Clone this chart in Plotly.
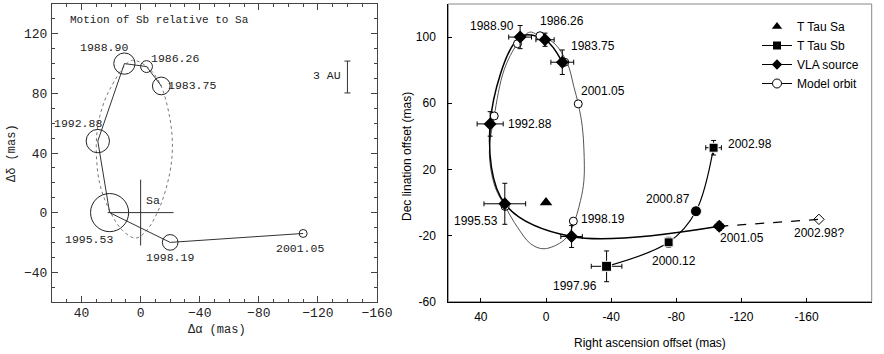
import plotly.graph_objects as go

# ---------------- Left panel data: motion of Sb relative to Sa ----------------
left_epochs = ["1983.75", "1986.26", "1988.90", "1992.88", "1995.53", "1998.19", "2001.05"]
left_dra = [-14, -4, 11, 29, 21, -20, -110]
left_ddec = [85, 98, 100, 48, 0, -20, -14]
left_err = [6.0, 4.0, 7.2, 7.9, 12.9, 5.3, 2.7]          # error circle radius (mas)

left_orbit_dra = [6.3, -3.9, -12.9, -19.6, -21.5, -19.6, -12.9, -3.9, 3.4, 12.0, 19.8, 27.7, 30.0, 27.7, 21.0, 6.3]
left_orbit_ddec = [102, 98.2, 87, 64.4, 44, 26, 3.6, -12.2, -17.1, -12.2, -0.9, 19.4, 46.4, 64.4, 82.4, 102]

sa_left = (0, 0)
scale_bar_center = (-140, 91)
scale_bar_len = 21.4   # 3 AU in mas

left_xticks = [40, 0, -40, -80, -120, -160]
left_yticks = [-40, 0, 40, 80, 120]

# ---------------- Right panel data ----------------
sa_ra = [0]
sa_dec = [0]

sb_epochs = ["1997.96", "2000.12", "2000.87", "2002.98"]
sb_ra = [-37.2, -75.3, -92.1, -102.9]
sb_dec = [-38.6, -24.1, -5.3, 33.1]
sb_ra_err = [9.4, 1.5, 2.0, 4.8]
sb_dec_err = [9.3, 3.0, 2.0, 4.4]

vla_epochs = ["1983.75", "1986.26", "1988.90", "1992.88", "1995.53", "1998.19", "2001.05"]
vla_ra = [-10.0, 0.6, 15.9, 34.3, 25.3, -15.7, -106.4]
vla_dec = [84.8, 98.4, 100.0, 47.5, -0.8, -20.6, -14.4]
vla_ra_err = [7.0, 5.6, 7.0, 8.0, 12.8, 6.6, 2.5]
vla_dec_err = [7.4, 4.0, 7.0, 7.4, 12.4, 6.6, 2.5]

vla_pred_epoch = "2002.98?"
vla_pred_ra = [-106.4, -167.6]
vla_pred_dec = [-14.4, -10.2]

model_epochs = ["1983.75", "1986.26", "1988.90", "1992.88", "1995.53", "1998.19", "2001.05"]
model_ra = [-11.5, 3.7, 17.5, 31.8, 25.1, -16.8, -19.8]
model_dec = [84.8, 100.8, 96.0, 52.3, -2.4, -11.3, 59.6]

orbit_ra = [5.3, 10, 17.5, 25.7, 31.8, 34.8, 31.5, 25.1, 17.5, 9.4, 1.2, -11, -16.2, -21.2,
            -23.3, -23.3, -22.3, -19.8, -17.1, -13.1, -4.9, 5.3]
orbit_dec = [101.4, 103, 96, 80.2, 52.3, 30, 10, -2.4, -15, -25, -28, -22.8, -14.8, 1.2,
             13.5, 31.7, 45.8, 59.6, 70, 84.2, 96.4, 101.4]

right_xticks = [40, 0, -40, -80, -120, -160, -200]
right_xticktext = ["40", "0", "-40", "-80", "-120", "-160", "-200"]
right_yticks = [100, 60, 20, -20, -60]
right_yticktext = ["100", "60", "20", "-20", "-60"]

# ---------------- Layout geometry ----------------
W, H = 884, 354
L_X0, L_X1, L_Y0, L_Y1 = 52, 377, 4, 302
R_X0, R_X1, R_Y0, R_Y1 = 448.3, 871.7, 4, 301.7
L_RANGE_X, L_RANGE_Y = [60, -160], [-60, 140]
R_RANGE_X, R_RANGE_Y = [60, -200], [-60, 120]
px_per_mas_left = (L_X1 - L_X0) / abs(L_RANGE_X[1] - L_RANGE_X[0])

MONO = "Liberation Mono"
SANS = "Liberation Sans"

fig = go.Figure()

# ---- left panel ----
fig.add_trace(go.Scatter(x=left_orbit_dra, y=left_orbit_ddec, mode="lines",
                         line=dict(color="#777", width=1, dash="dot", shape="spline"),
                         xaxis="x", yaxis="y", showlegend=False, hoverinfo="skip"))
fig.add_trace(go.Scatter(x=left_dra, y=left_ddec, mode="lines",
                         line=dict(color="#333", width=1),
                         xaxis="x", yaxis="y", showlegend=False))
fig.add_trace(go.Scatter(x=left_dra, y=left_ddec, mode="markers",
                         marker=dict(symbol="circle-open", color="#222", opacity=1,
                                     size=[2 * r * px_per_mas_left for r in left_err],
                                     line=dict(width=1, color="#222")),
                         xaxis="x", yaxis="y", showlegend=False))
fig.add_trace(go.Scatter(x=[sa_left[0]], y=[sa_left[1]], mode="markers",
                         marker=dict(symbol="cross-thin-open", size=47, color="#333",
                                     line=dict(width=1, color="#333")),
                         xaxis="x", yaxis="y", showlegend=False))
fig.add_trace(go.Scatter(x=[scale_bar_center[0]], y=[scale_bar_center[1]], mode="markers",
                         marker=dict(size=1, color="rgba(0,0,0,0)"),
                         error_y=dict(type="data", array=[scale_bar_len / 2], color="#333",
                                      thickness=1, width=3),
                         xaxis="x", yaxis="y", showlegend=False))

# ---- right panel ----
fig.add_trace(go.Scatter(x=orbit_ra, y=orbit_dec, mode="lines",
                         line=dict(color="#555", width=1, shape="spline"),
                         xaxis="x2", yaxis="y2", showlegend=False, hoverinfo="skip"))
fig.add_trace(go.Scatter(x=vla_pred_ra, y=vla_pred_dec, mode="lines",
                         line=dict(color="black", width=1.2, dash="dash"),
                         xaxis="x2", yaxis="y2", showlegend=False))
fig.add_trace(go.Scatter(x=vla_pred_ra[-1:], y=vla_pred_dec[-1:], mode="markers",
                         marker=dict(symbol="diamond-open", size=8, color="black", line=dict(width=1)),
                         xaxis="x2", yaxis="y2", showlegend=False))
fig.add_trace(go.Scatter(x=vla_ra, y=vla_dec, mode="lines",
                         line=dict(color="black", width=1.5, shape="spline"),
                         xaxis="x2", yaxis="y2", showlegend=False))
fig.add_trace(go.Scatter(x=sb_ra, y=sb_dec, mode="lines",
                         line=dict(color="black", width=1.2, shape="spline"),
                         xaxis="x2", yaxis="y2", showlegend=False))
fig.add_trace(go.Scatter(x=model_ra, y=model_dec, mode="markers",
                         marker=dict(symbol="circle", size=8, color="white", opacity=1,
                                     line=dict(color="black", width=1)),
                         xaxis="x2", yaxis="y2", showlegend=False))
fig.add_trace(go.Scatter(x=vla_ra, y=vla_dec, mode="markers",
                         marker=dict(symbol="diamond", size=10, color="black", opacity=1),
                         error_x=dict(type="data", array=vla_ra_err, color="black", thickness=1, width=2.5),
                         error_y=dict(type="data", array=vla_dec_err, color="black", thickness=1, width=2.5),
                         xaxis="x2", yaxis="y2", showlegend=False))
fig.add_trace(go.Scatter(x=sb_ra, y=sb_dec, mode="markers",
                         marker=dict(symbol=["square", "square", "circle", "square"], size=[10, 9, 11, 9],
                                     color="black", opacity=1),
                         error_x=dict(type="data", array=sb_ra_err, color="black", thickness=1, width=2.5),
                         error_y=dict(type="data", array=sb_dec_err, color="black", thickness=1, width=2.5),
                         xaxis="x2", yaxis="y2", showlegend=False))
fig.add_trace(go.Scatter(x=sa_ra, y=sa_dec, mode="markers",
                         marker=dict(symbol="triangle-up", size=11, color="black"),
                         xaxis="x2", yaxis="y2", showlegend=False))

# legend-only entries
fig.add_trace(go.Scatter(x=[None], y=[None], mode="markers", name="T Tau Sa",
                         marker=dict(symbol="triangle-up", size=9, color="black"), xaxis="x2", yaxis="y2"))
fig.add_trace(go.Scatter(x=[None], y=[None], mode="lines+markers", name="T Tau Sb",
                         marker=dict(symbol="square", size=8, color="black"),
                         line=dict(color="black", width=1), xaxis="x2", yaxis="y2"))
fig.add_trace(go.Scatter(x=[None], y=[None], mode="lines+markers", name="VLA source",
                         marker=dict(symbol="diamond", size=8, color="black"),
                         line=dict(color="black", width=1), xaxis="x2", yaxis="y2"))
fig.add_trace(go.Scatter(x=[None], y=[None], mode="lines+markers", name="Model orbit",
                         marker=dict(symbol="circle", size=9, color="white", line=dict(color="black", width=1)),
                         line=dict(color="black", width=1), xaxis="x2", yaxis="y2"))

annotations = []

# left panel epoch labels (pixel offsets)
left_shift = {"1983.75": (31, 0), "1986.26": (28, 8), "1988.90": (-20, 16), "1992.88": (-20, 18),
              "1995.53": (-21, -27), "1998.19": (0, -15), "2001.05": (-3, -15)}
for e, xv, yv in zip(left_epochs, left_dra, left_ddec):
    dx, dy = left_shift[e]
    annotations.append(dict(x=xv, y=yv, xref="x", yref="y", text=e, showarrow=False,
                            xshift=dx, yshift=dy, font=dict(family=MONO, size=11.5, color="#222")))
annotations.append(dict(x=sa_left[0], y=sa_left[1], xref="x", yref="y", text="Sa", showarrow=False,
                        xshift=12, yshift=12, font=dict(family=MONO, size=11.5, color="#222")))
annotations.append(dict(x=scale_bar_center[0], y=scale_bar_center[1], xref="x", yref="y", text="3 AU",
                        showarrow=False, xanchor="right", xshift=-4, yshift=2,
                        font=dict(family=MONO, size=11.5, color="#222")))
annotations.append(dict(x=68 / W, y=1 - 20 / H, xref="paper", yref="paper", text="Motion of Sb relative to Sa",
                        showarrow=False, xanchor="left", yanchor="middle",
                        font=dict(family=MONO, size=11, color="#222")))
annotations.append(dict(x=217 / W, y=1 - 330 / H, xref="paper", yref="paper", text="Δα (mas)",
                        showarrow=False, xanchor="center", yanchor="middle",
                        font=dict(family=MONO, size=12, color="#222")))
annotations.append(dict(x=12 / W, y=1 - 153 / H, xref="paper", yref="paper", text="Δδ (mas)",
                        showarrow=False, textangle=-90, xanchor="center", yanchor="middle",
                        font=dict(family=MONO, size=12, color="#222")))

# right panel labels
vla_shift = {"1983.75": (31, 16), "1986.26": (17, 19), "1988.90": (-28, 11), "1992.88": (40, 0),
             "1995.53": (-29, -17), "2001.05": (23, -12)}
for e, xv, yv in zip(vla_epochs, vla_ra, vla_dec):
    if e in vla_shift:
        dx, dy = vla_shift[e]
        annotations.append(dict(x=xv, y=yv, xref="x2", yref="y2", text=e, showarrow=False,
                                xshift=dx, yshift=dy, font=dict(family=SANS, size=12, color="black")))
model_shift = {"2001.05": (25, 13), "1998.19": (30, 2)}
for e, xv, yv in zip(model_epochs, model_ra, model_dec):
    if e in model_shift:
        dx, dy = model_shift[e]
        annotations.append(dict(x=xv, y=yv, xref="x2", yref="y2", text=e, showarrow=False,
                                xshift=dx, yshift=dy, font=dict(family=SANS, size=12, color="black")))
sb_shift = {"1997.96": (-32, -20), "2000.12": (5, -19), "2000.87": (-28, 12), "2002.98": (36, 4)}
for e, xv, yv in zip(sb_epochs, sb_ra, sb_dec):
    dx, dy = sb_shift[e]
    annotations.append(dict(x=xv, y=yv, xref="x2", yref="y2", text=e, showarrow=False,
                            xshift=dx, yshift=dy, font=dict(family=SANS, size=12, color="black")))
annotations.append(dict(x=vla_pred_ra[-1], y=vla_pred_dec[-1], xref="x2", yref="y2", text=vla_pred_epoch,
                        showarrow=False, xshift=0, yshift=-14, font=dict(family=SANS, size=12, color="black")))
annotations.append(dict(x=650 / W, y=1 - 342.7 / H, xref="paper", yref="paper",
                        text="Right ascension offset (mas)", showarrow=False,
                        xanchor="center", yanchor="middle",
                        font=dict(family=SANS, size=12, color="black")))
annotations.append(dict(x=407 / W, y=1 - 157 / H, xref="paper", yref="paper",
                        text="Dec lination offset (mas)", showarrow=False, textangle=-90,
                        xanchor="center", yanchor="middle",
                        font=dict(family=SANS, size=12, color="black")))

left_minor = dict(ticks="inside", ticklen=3, tickcolor="#444", showgrid=False, dtick=10)
left_axis_common = dict(showgrid=False, zeroline=False, showline=True, linecolor="#444", linewidth=1,
                        mirror="ticks", ticks="inside", ticklen=6, tickcolor="#444", tickwidth=1,
                        automargin=False, minor=left_minor,
                        tickfont=dict(family=MONO, size=13, color="#222"))
right_axis_common = dict(showgrid=False, zeroline=False, showline=True, linecolor="black", linewidth=1,
                         ticks="inside", ticklen=4, tickcolor="black", tickwidth=1, automargin=False,
                         tickfont=dict(family=SANS, size=12, color="black"))

fig.update_layout(
    width=W, height=H, margin=dict(l=0, r=0, t=0, b=0, autoexpand=False),
    paper_bgcolor="white", plot_bgcolor="white",
    xaxis=dict(domain=[L_X0 / W, L_X1 / W], range=L_RANGE_X, tickvals=left_xticks,
               anchor="y", ticklabelstandoff=-2, **left_axis_common),
    yaxis=dict(domain=[1 - L_Y1 / H, 1 - L_Y0 / H], range=L_RANGE_Y, tickvals=left_yticks,
               anchor="x", ticklabelstandoff=1, **left_axis_common),
    xaxis2=dict(domain=[R_X0 / W, R_X1 / W], range=R_RANGE_X, tickvals=right_xticks,
                ticktext=right_xticktext, anchor="y2", ticklabelstandoff=4, **right_axis_common),
    yaxis2=dict(domain=[1 - R_Y1 / H, 1 - R_Y0 / H], range=R_RANGE_Y, tickvals=right_yticks,
                ticktext=right_yticktext, anchor="x2", ticklabelstandoff=9, **right_axis_common),
    shapes=[dict(type="rect", xref="x2 domain", yref="y2 domain", x0=0, x1=1, y0=0, y1=1,
                 line=dict(color="#888", width=1), layer="below")],
    legend=dict(x=757 / W, y=1 - 12 / H, xanchor="left", yanchor="top", bgcolor="rgba(0,0,0,0)",
                font=dict(family=SANS, size=12, color="black"), itemwidth=30, tracegroupgap=0),
    annotations=annotations,
    showlegend=True,
)

fig.write_html("out.html", config={"displayModeBar": False},
               post_script="document.body.style.margin='0px';")
